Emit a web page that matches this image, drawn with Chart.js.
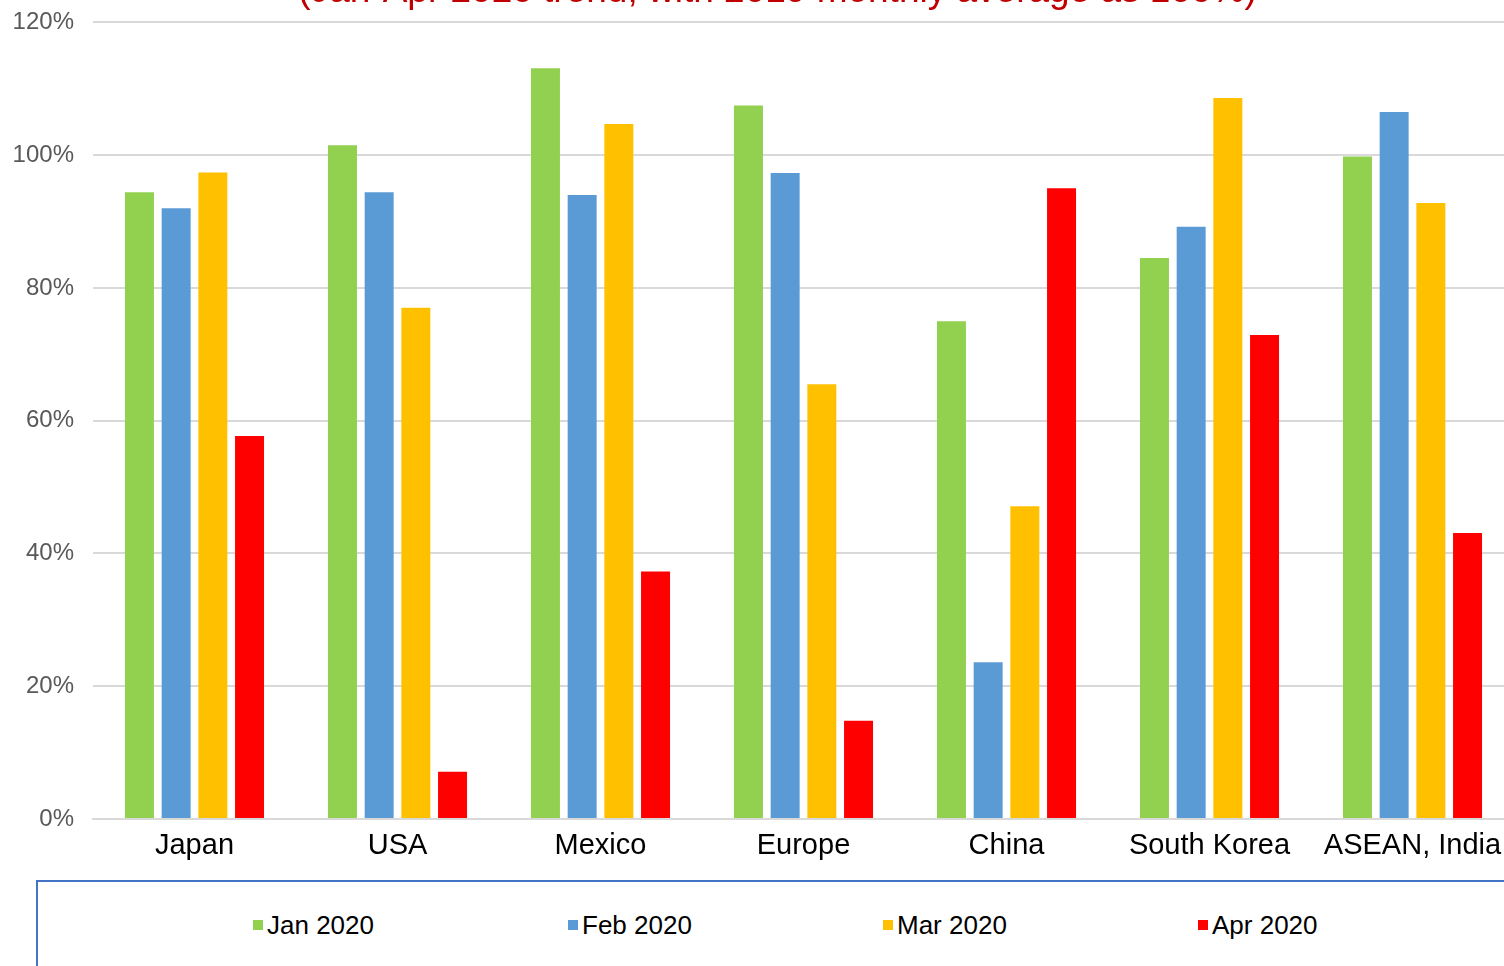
<!DOCTYPE html>
<html>
<head>
<meta charset="utf-8">
<title>Production trend by region</title>
<script src="https://cdn.jsdelivr.net/npm/chart.js@4.4.1/dist/chart.umd.min.js"></script>
<style>
  html, body { margin: 0; padding: 0; width: 1504px; height: 966px; overflow: hidden; background: #fff; }
  #wrap { position: absolute; left: 0; top: -40px; width: 1560px; height: 920px; }
  #legendBox {
    position: absolute; left: 36px; top: 880px; width: 1520px; height: 120px;
    border: 2px solid #4472C4; box-sizing: border-box;
    font-family: "Liberation Sans", Arial, sans-serif; font-size: 26px; color: #000;
  }
  .item { position: absolute; top: 27px; height: 32px; line-height: 32px; white-space: nowrap; }
  .swatch { display: inline-block; width: 10px; height: 10px; margin-right: 4px; vertical-align: middle; position: relative; top: -2px; }
</style>
</head>
<body>
<div id="wrap"><canvas id="trendChart" width="1560" height="920"></canvas></div>
<div id="legendBox"></div>
<script>
// regions and monthly output, % of the 2019 monthly average
const regions = ["Japan", "USA", "Mexico", "Europe", "China", "South Korea", "ASEAN, India"];
const seriesNames = ["Jan 2020", "Feb 2020", "Mar 2020", "Apr 2020"];
const jan2020 = [94.4, 101.5, 113.1, 107.5, 75.0, 84.5, 99.8];
const feb2020 = [92.0, 94.4, 94.0, 97.3, 23.6, 89.2, 106.5];
const mar2020 = [97.4, 77.0, 104.7, 65.5, 47.1, 108.6, 92.8];
const apr2020 = [57.7, 7.1, 37.3, 14.8, 95.0, 72.9, 43.1];
const seriesColors = ["#92D050", "#5B9BD5", "#FFC000", "#FF0000"];
const yMin = 0, yMax = 120, yStep = 20;

const seriesValues = [jan2020, feb2020, mar2020, apr2020];

// leading no-break spaces nudge the centred title to the right
const titleText = "\u00A0\u00A0\u00A0\u00A0(Jan-Apr 2020 trend, with 2019 monthly average as 100%)";

const ctx = document.getElementById("trendChart").getContext("2d");
new Chart(ctx, {
  type: "bar",
  data: {
    labels: regions,
    datasets: seriesNames.map((name, i) => ({
      label: name,
      data: seriesValues[i],
      backgroundColor: seriesColors[i],
      categoryPercentage: 0.723,
      barPercentage: 0.79
    }))
  },
  options: {
    responsive: false,
    animation: false,
    layout: { padding: { left: 0, right: 46, top: 0, bottom: 11 } },
    plugins: {
      legend: { display: false },
      tooltip: { enabled: false },
      title: {
        display: true,
        text: titleText,
        color: "#C00000",
        font: { family: "Liberation Sans", size: 37, weight: "normal" },
        padding: { top: 10, bottom: 8 }
      }
    },
    scales: {
      x: {
        grid: { display: false, drawTicks: false },
        border: { display: true, color: "#D9D9D9", width: 2 },
        ticks: {
          color: "#000",
          font: { family: "Liberation Sans", size: 29 },
          padding: 10,
          maxRotation: 0,
          autoSkip: false
        },
        afterFit: (scale) => { scale.height = 50; }
      },
      y: {
        min: yMin,
        max: yMax,
        grid: { color: "#D9D9D9", lineWidth: 2, drawTicks: false },
        border: { display: false },
        ticks: {
          stepSize: yStep,
          color: "#595959",
          font: { family: "Liberation Sans", size: 24 },
          padding: 19,
          callback: (v) => v + "%"
        },
        afterFit: (scale) => { scale.width = 93; }
      }
    }
  }
});

// legend row in a bordered box under the chart
const legendBox = document.getElementById("legendBox");
seriesNames.forEach((name, i) => {
  const item = document.createElement("div");
  item.className = "item";
  item.style.left = (215 + i * 315) + "px";
  const sw = document.createElement("span");
  sw.className = "swatch";
  sw.style.background = seriesColors[i];
  item.appendChild(sw);
  item.appendChild(document.createTextNode(name));
  legendBox.appendChild(item);
});
</script>
</body>
</html>
